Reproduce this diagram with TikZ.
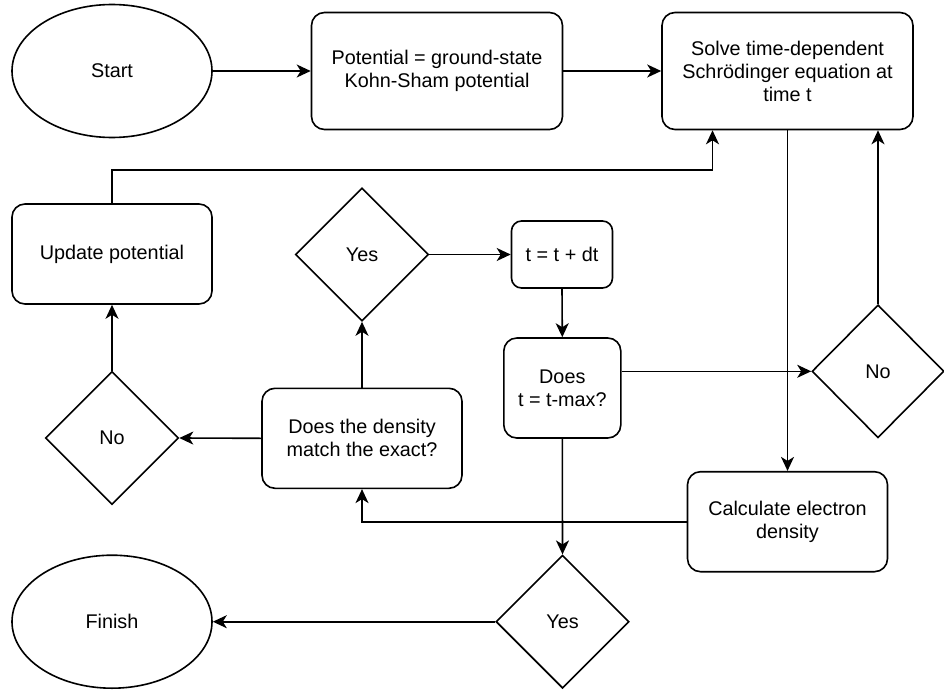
\documentclass[tikz,border=0pt]{standalone}
\usepackage{fontspec}
\setmainfont{Liberation Sans}
\usetikzlibrary{arrows.meta,shapes.geometric}
\tikzset{%
	term/.style   = {draw, ellipse, minimum width=200pt, minimum height=133pt, inner sep=0pt},
	proc/.style   = {draw, rectangle, rounded corners=13pt, minimum width=200pt, minimum height=100pt, align=center},
	choice/.style = {draw, diamond, aspect=1, minimum width=133pt, minimum height=133pt, inner sep=0pt},
	conn/.style   = {line width=1.6pt, -{Stealth[length=14pt,width=13pt,inset=4pt]}},
}

\begin{document}
\begin{tikzpicture}[x=1pt,y=-1pt,line width=1.6pt,font=\fontsize{19.8}{23}\selectfont]
	\useasboundingbox (0,0) rectangle (944,693);
	
	% top row
	\node[term] (start) at (112,71) {Start};
	\node[proc, minimum width=251pt, minimum height=117pt] (pot) at (437,71) {Potential = ground-state\\Kohn-Sham potential};
	\node[proc, minimum width=251pt, minimum height=117pt] (solve) at (787.5,71) {Solve time-dependent\\Schrödinger equation at\\time t};
	
	% middle
	\node[proc] (upd) at (112,254) {Update potential};
	\node[choice] (yesA) at (362,254.5) {Yes};
	\node[proc, rounded corners=10pt, minimum width=101pt, minimum height=67pt] (step) at (562,254.5) {t = t + dt};
	\node[proc, minimum width=117pt] (tmax) at (562.3,388) {Does\\t = t-max?};
	\node[choice, minimum width=132pt] (noR) at (878,371.3) {No};
	\node[choice] (noL) at (112,438) {No};
	\node[proc] (dens) at (362,438.3) {Does the density\\match the exact?};
	\node[proc] (calc) at (787.5,521.7) {Calculate electron\\density};
	
	% bottom row
	\node[choice] (yesB) at (562.5,621.7) {Yes};
	\node[term] (finish) at (112,621.7) {Finish};
	
	% connectors
	\draw[conn] (start) -- (pot);
	\draw[conn] (pot) -- (solve);
	\draw[conn] (upd.north) -- ++(0,-33) -| ([xshift=-75pt]solve.south);
	\draw[conn] (noR.north) -- (noR.north |- solve.south);
	\draw[conn] (solve.south) -- (calc.north);
	\draw[conn] (yesA.east) -- (step.west);
	\draw[conn] (step.south) -- (tmax.north);
	\draw[conn] (tmax.east |- noR.west) -- (noR.west);
	\draw[conn] (tmax.south) -- (yesB.north);
	\draw[conn] (yesB.west) -- (finish.east);
	\draw[conn] (calc.west) -| (dens.south);
	\draw[conn] (dens.west) -- (noL.east);
	\draw[conn] (dens.north) -- (yesA.south);
	\draw[conn] (noL.north) -- (upd.south);
\end{tikzpicture}
\end{document}
